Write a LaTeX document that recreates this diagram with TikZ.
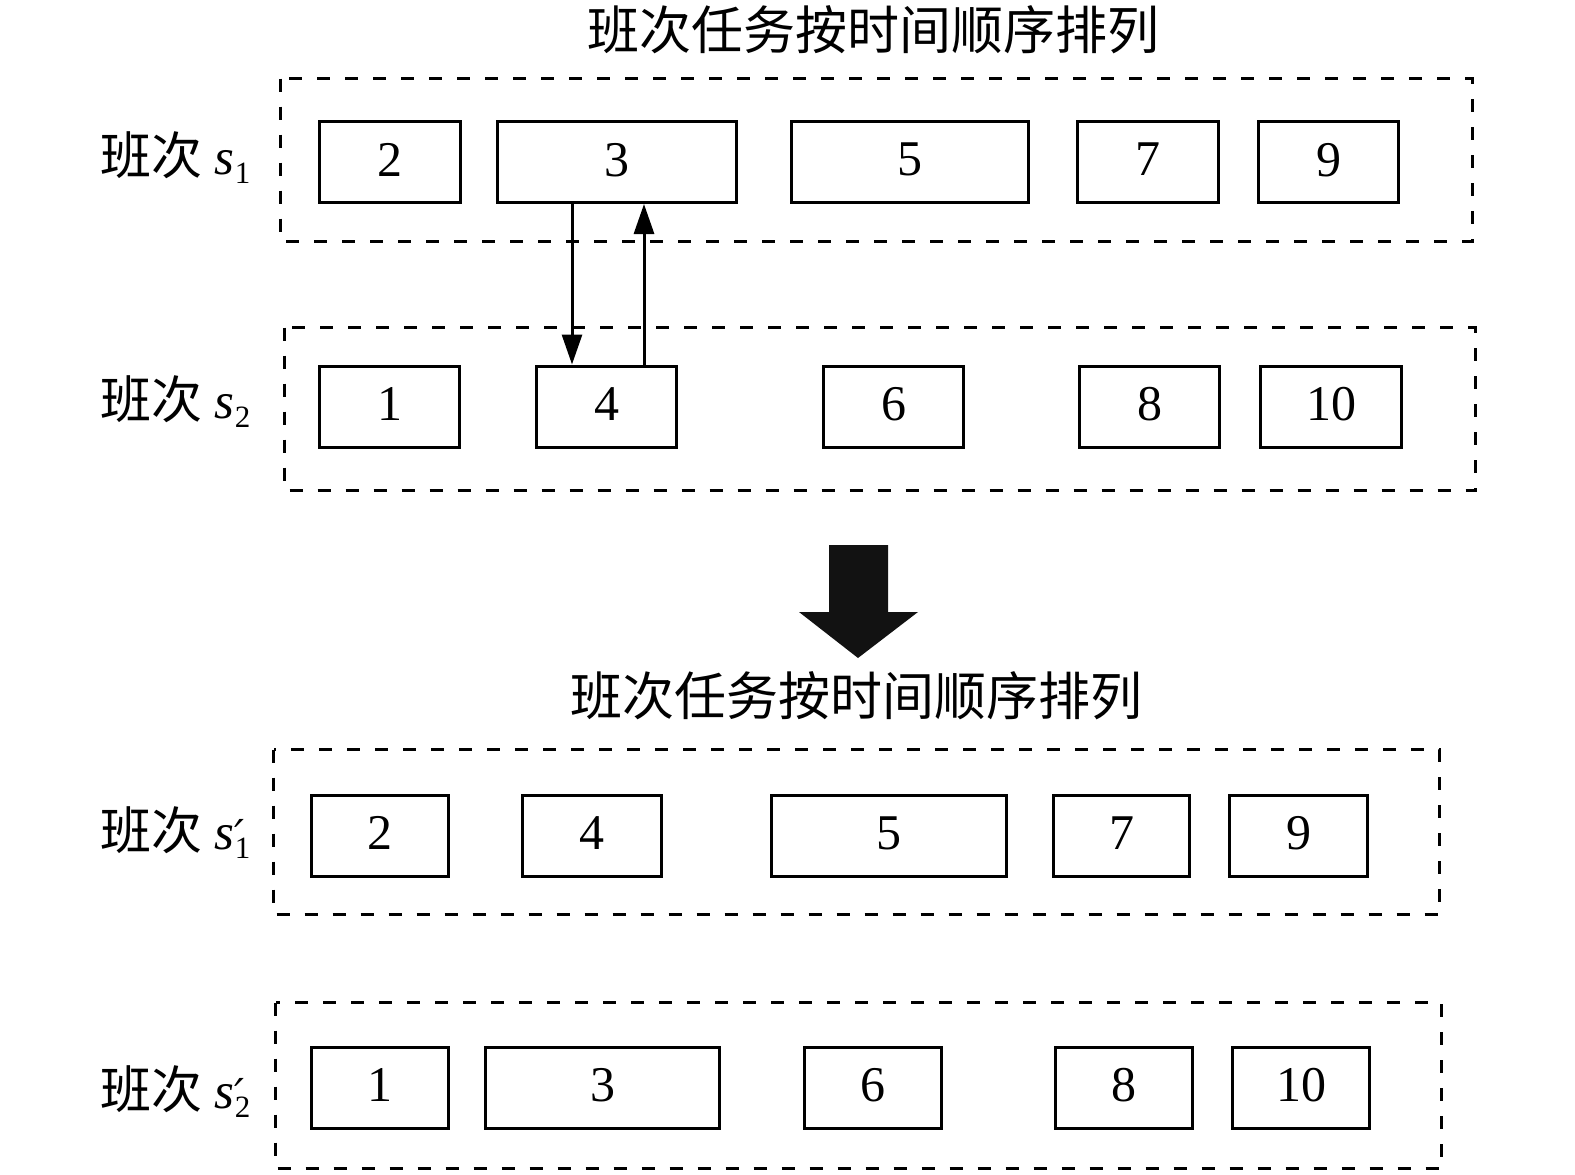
\documentclass[tikz,border=0pt]{standalone}
\usepackage{fontspec}
\setmainfont{Liberation Serif}
\newfontfamily\cjk{Noto Sans CJK SC}
\newfontfamily\primefont{DejaVu Serif}
\usetikzlibrary{arrows.meta}
\newcommand{\lowsub}[1]{\raisebox{-9pt}{\fontsize{31}{32}\selectfont #1}}
\newcommand{\hiprime}{\rlap{\raisebox{-2pt}{\fontsize{44}{44}\selectfont\primefont\itshape ′}}}
\begin{document}
\begin{tikzpicture}[x=1pt,y=-1pt,
  taskbox/.style={draw, line width=3pt, inner sep=0pt, minimum height=81pt, text depth=5pt, font=\fontsize{50}{60}\selectfont},
  frame/.style={draw, line width=3pt, dash pattern=on 13pt off 15pt},
  lbl/.style={anchor=west, inner sep=0pt, font=\fontsize{51}{60}\selectfont},
  ttl/.style={inner sep=0pt, font=\fontsize{52}{60}\selectfont\cjk},
  link/.style={line width=3pt, -{Triangle[length=30pt,width=20pt]}}]
\useasboundingbox (0,0) rectangle (1575,1175);

% titles
\node[ttl] (t1) at (873,30) {班次任务按时间顺序排列};
\node[ttl] (t2) at (856,696) {班次任务按时间顺序排列};

% frames
\draw[frame] (280.5,78.5) rectangle (1472.5,241);
\draw[frame] (284.5,327.5) rectangle (1475.5,490.5);
\draw[frame] (273.5,749.5) rectangle (1439.5,914.5);
\draw[frame] (275.5,1002.5) rectangle (1441.5,1168.5);

% labels
\node[lbl] (l1) at (100,158) {{\cjk 班次} {\itshape s}\lowsub{1}};
\node[lbl] (l2) at (100,402) {{\cjk 班次} {\itshape s}\lowsub{2}};
\node[lbl] (l3) at (100,833) {{\cjk 班次} {\itshape s}\hiprime\lowsub{1}};
\node[lbl] (l4) at (100,1092) {{\cjk 班次} {\itshape s}\hiprime\lowsub{2}};

% row 1
\node[taskbox, minimum width=141pt] (b2) at (390,162) {2};
\node[taskbox, minimum width=239pt] (b3) at (617,162) {3};
\node[taskbox, minimum width=237pt] (b5) at (910,162) {5};
\node[taskbox, minimum width=141pt] (b7) at (1148,162) {7};
\node[taskbox, minimum width=140pt] (b9) at (1328.5,162) {9};

% row 2
\node[taskbox, minimum width=140pt] (a1) at (389.5,406.5) {1};
\node[taskbox, minimum width=140pt] (a4) at (606.5,406.5) {4};
\node[taskbox, minimum width=140pt] (a6) at (893.5,406.5) {6};
\node[taskbox, minimum width=140pt] (a8) at (1149.5,406.5) {8};
\node[taskbox, minimum width=141pt] (a10) at (1331,406.5) {10};

% row 3
\node[taskbox, minimum width=137pt] (c2) at (380,835.5) {2};
\node[taskbox, minimum width=139pt] (c4) at (592,835.5) {4};
\node[taskbox, minimum width=235pt] (c5) at (889,835.5) {5};
\node[taskbox, minimum width=136pt] (c7) at (1121.5,835.5) {7};
\node[taskbox, minimum width=138pt] (c9) at (1298.5,835.5) {9};

% row 4
\node[taskbox, minimum width=137pt] (d1) at (380,1087.5) {1};
\node[taskbox, minimum width=234pt] (d3) at (602.5,1087.5) {3};
\node[taskbox, minimum width=137pt] (d6) at (873,1087.5) {6};
\node[taskbox, minimum width=137pt] (d8) at (1124,1087.5) {8};
\node[taskbox, minimum width=137pt] (d10) at (1301,1087.5) {10};

% swap arrows
\coordinate (xd) at (572,0);
\coordinate (xu) at (644,0);
\draw[link] (xd |- b3.south) -- (xd |- a4.north);
\draw[link] (xu |- a4.north) -- (xu |- b3.south);

% big arrow
\fill[black!93] (829,545) -- (888,545) -- (888,612) -- (918,612) -- (858,658)
  -- (799,612) -- (829,612) -- cycle;
\end{tikzpicture}
\end{document}
